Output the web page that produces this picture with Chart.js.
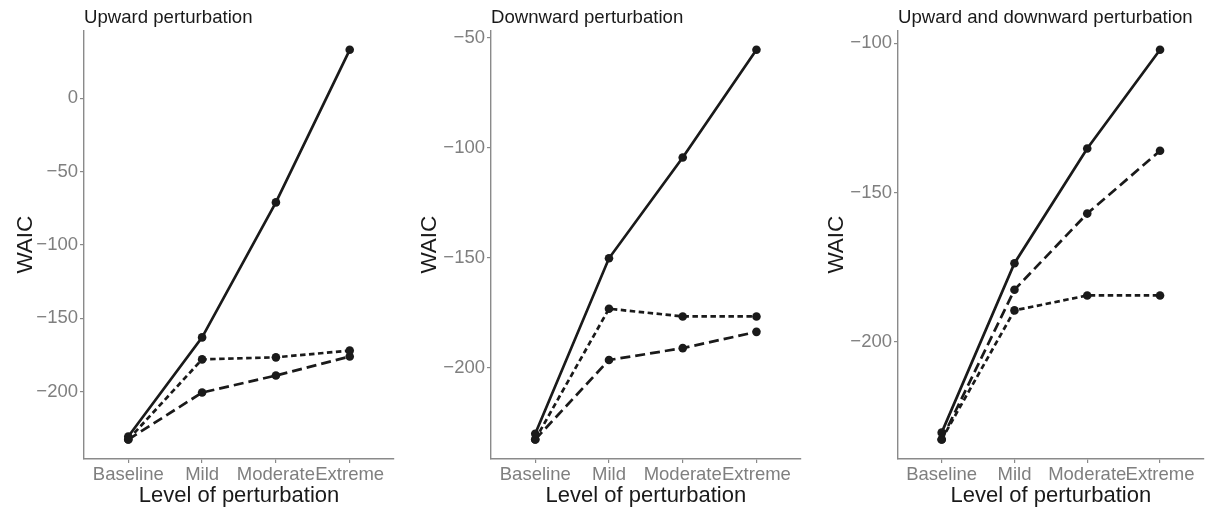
<!DOCTYPE html>
<html>
<head>
<meta charset="utf-8">
<script src="https://cdn.jsdelivr.net/npm/chart.js@4.4.0/dist/chart.umd.min.js"></script>
<style>
  body { margin: 0; background: #fff; }
  .panel { position: absolute; top: 0; height: 509px; }
</style>
</head>
<body>
<div class="panel" id="p1" style="left:0;width:402px"><canvas id="c1"></canvas></div>
<div class="panel" id="p2" style="left:403px;width:402px"><canvas id="c2"></canvas></div>
<div class="panel" id="p3" style="left:806px;width:402px"><canvas id="c3"></canvas></div>
<script>
// categories on the x axis
const categories = ["Baseline", "Mild", "Moderate", "Extreme"];

// upward perturbation
const upSolid = [-230.5, -163, -71, 33];
const upShortDash = [-232.6, -178, -176.6, -172];
const upLongDash = [-232.6, -200.6, -189, -176];

// downward perturbation
const downSolid = [-230, -150.3, -104.5, -55.6];
const downShortDash = [-232.6, -173.2, -176.7, -176.7];
const downLongDash = [-232.6, -196.5, -191.1, -183.7];

// upward and downward perturbation
const bothSolid = [-230.3, -173.6, -135.2, -102.2];
const bothShortDash = [-232.6, -189.4, -184.4, -184.4];
const bothLongDash = [-232.6, -182.5, -157, -136];

// y tick labels for each panel
const upTicks = [-200, -150, -100, -50, 0];
const downTicks = [-200, -150, -100, -50];
const bothTicks = [-200, -150, -100];

const FONT = "'Liberation Sans', Arial, Helvetica, sans-serif";
const ink = "#1a1a1a";
const grey = "#8a8a8a";

const toPoints = values => values.map((v, i) => ({ x: i, y: v }));

const makeSet = (values, dash) => ({
    data: toPoints(values),
    borderColor: ink,
    backgroundColor: ink,
    borderWidth: 2.7,
    borderDash: dash,
    pointRadius: 4.3,
    pointBorderWidth: 0,
    pointBackgroundColor: ink,
    tension: 0,
    fill: false
});

// leftWidth = room for the y axis, titleGap = space before the WAIC label
const makeChart = (canvasId, title, sets, ticks, leftWidth, rightPad, titleGap) => {
    // ggplot style 5% expansion of the data range
    const all = sets.flat();
    const lo = Math.min(...all);
    const hi = Math.max(...all);
    const pad = (hi - lo) * 0.05;

    new Chart(document.getElementById(canvasId), {
        type: "line",
        data: {
            datasets: [
                makeSet(sets[0], []),
                makeSet(sets[1], [5.5, 3.5]),
                makeSet(sets[2], [10, 5])
            ]
        },
        options: {
            responsive: true,
            maintainAspectRatio: false,
            animation: false,
            devicePixelRatio: 1,
            layout: { padding: { left: 0, right: rightPad, top: 0, bottom: 0 } },
            plugins: {
                legend: { display: false },
                tooltip: { enabled: false },
                title: {
                    display: true,
                    text: title,
                    align: "start",
                    fullSize: false,
                    color: ink,
                    font: { family: FONT, size: 18.6, weight: "normal" },
                    padding: { top: 7, bottom: 1 }
                }
            },
            scales: {
                x: {
                    type: "linear",
                    min: -0.6,
                    max: 3.6,
                    afterBuildTicks: scale => { scale.ticks = categories.map((c, i) => ({ value: i })); },
                    afterFit: scale => { scale.height = 50; },
                    grid: { drawOnChartArea: false, drawTicks: true, tickLength: 4, color: grey, lineWidth: 1.2 },
                    border: { display: true, color: grey, width: 1.4 },
                    ticks: {
                        autoSkip: false,
                        maxRotation: 0,
                        padding: 1,
                        color: "#7f7f7f",
                        font: { family: FONT, size: 18.5 },
                        callback: v => categories[v]
                    },
                    title: {
                        display: true,
                        text: "Level of perturbation",
                        color: ink,
                        font: { family: FONT, size: 22 },
                        padding: { top: 0, bottom: 0 }
                    }
                },
                y: {
                    min: lo - pad,
                    max: hi + pad,
                    afterBuildTicks: scale => { scale.ticks = ticks.map(v => ({ value: v })); },
                    afterFit: scale => { scale.width = leftWidth; },
                    grid: { drawOnChartArea: false, drawTicks: true, tickLength: 4, color: grey, lineWidth: 1.2 },
                    border: { display: true, color: grey, width: 1.4 },
                    ticks: {
                        padding: 2,
                        color: "#7f7f7f",
                        font: { family: FONT, size: 18.5 },
                        callback: v => (v < 0 ? "\u2212" + Math.abs(v) : String(v))
                    },
                    title: {
                        display: true,
                        text: "WAIC",
                        color: ink,
                        font: { family: FONT, size: 22.5 },
                        padding: { top: titleGap, bottom: 0 }
                    }
                }
            }
        }
    });
};

makeChart("c1", "Upward perturbation", [upSolid, upShortDash, upLongDash], upTicks, 84, 8, 12);
makeChart("c2", "Downward perturbation", [downSolid, downShortDash, downLongDash], downTicks, 88, 4, 13);
makeChart("c3", "Upward and downward perturbation", [bothSolid, bothShortDash, bothLongDash], bothTicks, 92, 0, 17);
</script>
</body>
</html>
